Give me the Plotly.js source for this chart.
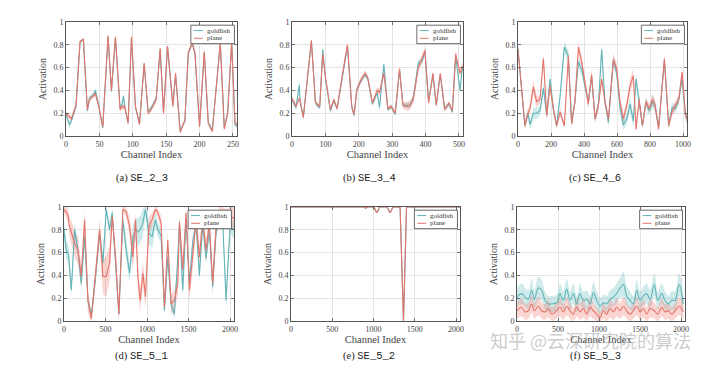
<!DOCTYPE html>
<html><head><meta charset="utf-8">
<script src="https://cdn.plot.ly/plotly-3.0.1.min.js"></script>
<style>html,body{margin:0;padding:0;background:#fff}#chart{width:720px;height:371px}</style>
</head><body><div id="chart"></div>
<script>
// ---------- (a) SE_2_3 ----------
const aX = [0,5,8,15,21,26,32,35,41,44,49,55,63,68,74,81,84,86,88,93,98,104,110,117,123,128,135,141,146,152,160,164,171,178,183,189,193,200,207,213,219,231,237,242,248,253,256];
const aPlane = [0.20,0.17,0.15,0.27,0.83,0.85,0.23,0.32,0.35,0.37,0.26,0.08,0.88,0.40,0.87,0.23,0.26,0.25,0.26,0.11,0.87,0.26,0.10,0.64,0.20,0.24,0.32,0.77,0.20,0.79,0.26,0.55,0.03,0.14,0.73,0.82,0.73,0.08,0.74,0.11,0.04,0.82,0.06,0.20,0.82,0.11,0.10];
const aGold = [0.19,0.10,0.13,0.26,0.82,0.85,0.22,0.33,0.36,0.40,0.27,0.07,0.87,0.39,0.86,0.24,0.28,0.35,0.25,0.12,0.86,0.25,0.11,0.63,0.21,0.25,0.33,0.76,0.21,0.78,0.27,0.53,0.05,0.13,0.72,0.81,0.72,0.09,0.73,0.12,0.05,0.81,0.07,0.21,0.81,0.10,0.09];
const aPlaneStd = [0.02,0.02,0.02,0.02,0.01,0.01,0.02,0.02,0.02,0.02,0.02,0.01,0.01,0.02,0.01,0.02,0.02,0.03,0.02,0.01,0.01,0.02,0.01,0.02,0.02,0.02,0.03,0.01,0.02,0.01,0.02,0.02,0.01,0.02,0.02,0.01,0.02,0.01,0.02,0.01,0.01,0.01,0.01,0.02,0.01,0.02,0.02];
const aGoldStd = [0.02,0.03,0.02,0.02,0.01,0.01,0.02,0.02,0.02,0.02,0.02,0.01,0.01,0.02,0.01,0.02,0.02,0.03,0.02,0.01,0.01,0.02,0.01,0.02,0.02,0.02,0.02,0.01,0.02,0.01,0.02,0.02,0.01,0.02,0.02,0.01,0.02,0.01,0.02,0.01,0.01,0.01,0.01,0.02,0.01,0.02,0.02];

// ---------- (b) SE_3_4 ----------
const bX = [0,12,22,24,34,58,70,75,83,92,100,115,125,135,150,166,179,186,194,206,219,227,241,255,262,271,275,287,297,309,322,332,346,353,363,378,390,398,409,422,432,444,457,470,480,490,503,510,512];
const bPlane = [0.33,0.26,0.33,0.32,0.16,0.84,0.30,0.28,0.26,0.72,0.52,0.23,0.32,0.24,0.52,0.80,0.26,0.19,0.40,0.49,0.55,0.51,0.29,0.40,0.38,0.52,0.55,0.24,0.26,0.20,0.59,0.27,0.26,0.27,0.32,0.60,0.68,0.75,0.29,0.55,0.27,0.55,0.23,0.29,0.22,0.72,0.55,0.61,0.60];
const bGold = [0.32,0.25,0.45,0.30,0.17,0.83,0.30,0.27,0.25,0.76,0.51,0.22,0.31,0.24,0.50,0.79,0.25,0.18,0.41,0.48,0.54,0.50,0.28,0.38,0.25,0.50,0.63,0.23,0.26,0.19,0.58,0.27,0.27,0.27,0.33,0.64,0.66,0.74,0.30,0.54,0.27,0.54,0.24,0.28,0.21,0.70,0.40,0.60,0.59];
const bPlaneStd = [0.02,0.02,0.02,0.02,0.02,0.01,0.02,0.02,0.02,0.02,0.02,0.02,0.02,0.02,0.04,0.03,0.02,0.02,0.03,0.03,0.03,0.02,0.02,0.03,0.03,0.03,0.02,0.02,0.02,0.02,0.02,0.03,0.04,0.04,0.04,0.04,0.04,0.03,0.02,0.02,0.02,0.02,0.02,0.02,0.02,0.03,0.03,0.03,0.03];
const bGoldStd = [0.02,0.02,0.03,0.02,0.02,0.01,0.02,0.02,0.02,0.02,0.02,0.02,0.02,0.02,0.03,0.02,0.02,0.02,0.02,0.02,0.02,0.02,0.02,0.02,0.03,0.02,0.03,0.02,0.02,0.02,0.02,0.02,0.03,0.03,0.03,0.03,0.03,0.02,0.02,0.02,0.02,0.02,0.02,0.02,0.02,0.02,0.03,0.02,0.02];

// ---------- (c) SE_4_6 ----------
const cX = [0,22,42,60,73,93,113,133,154,174,194,214,234,255,281,305,325,345,366,386,406,426,446,467,487,507,527,548,578,598,618,638,659,679,699,715,734,754,775,795,815,831,852,887,913,933,954,974,994,1015,1024];
const cPlane = [0.76,0.41,0.09,0.20,0.24,0.43,0.30,0.32,0.68,0.18,0.44,0.24,0.09,0.21,0.09,0.70,0.11,0.30,0.78,0.65,0.47,0.28,0.54,0.15,0.27,0.50,0.30,0.15,0.67,0.59,0.30,0.15,0.27,0.44,0.53,0.06,0.32,0.09,0.30,0.24,0.32,0.27,0.06,0.68,0.09,0.21,0.27,0.32,0.56,0.18,0.15];
const cGold = [0.76,0.41,0.09,0.20,0.10,0.20,0.20,0.22,0.42,0.18,0.50,0.24,0.09,0.35,0.78,0.70,0.11,0.30,0.65,0.58,0.45,0.30,0.52,0.15,0.27,0.76,0.30,0.12,0.67,0.55,0.25,0.10,0.15,0.28,0.13,0.50,0.30,0.09,0.30,0.22,0.30,0.26,0.08,0.66,0.09,0.25,0.24,0.32,0.50,0.18,0.15];
const cPlaneStd = [0.03,0.04,0.03,0.04,0.05,0.06,0.05,0.04,0.05,0.04,0.05,0.04,0.03,0.04,0.03,0.05,0.03,0.04,0.05,0.05,0.05,0.04,0.05,0.04,0.04,0.05,0.04,0.04,0.05,0.05,0.05,0.04,0.05,0.06,0.06,0.03,0.05,0.03,0.04,0.04,0.05,0.05,0.03,0.04,0.03,0.04,0.04,0.04,0.05,0.04,0.04];
const cGoldStd = [0.03,0.04,0.03,0.04,0.04,0.05,0.05,0.04,0.05,0.04,0.05,0.04,0.03,0.05,0.05,0.05,0.03,0.04,0.04,0.05,0.05,0.04,0.05,0.04,0.04,0.04,0.04,0.04,0.05,0.05,0.05,0.05,0.05,0.06,0.05,0.05,0.05,0.03,0.04,0.04,0.05,0.05,0.03,0.04,0.03,0.04,0.04,0.04,0.05,0.04,0.04];

// ---------- (d) SE_5_1 ----------
const dX = [0,28,48,60,88,128,168,208,248,288,329,369,429,469,509,549,581,621,661,709,749,790,830,862,890,918,950,982,1022,1062,1102,1130,1170,1210,1250,1290,1330,1371,1391,1431,1471,1511,1551,1591,1631,1671,1711,1751,1791,1832,1872,1912,1952,2000,2048];
const dPlane = [0.98,0.95,0.93,0.85,0.77,0.68,0.62,0.39,0.89,0.18,0.02,0.33,0.80,0.39,0.39,0.51,0.92,0.56,0.06,0.98,0.96,0.83,0.56,0.89,0.39,0.18,0.42,0.21,0.83,0.89,0.98,0.95,0.86,0.12,0.71,0.15,0.18,0.33,0.87,0.45,0.95,0.27,0.56,0.89,0.56,0.89,0.62,0.86,0.33,0.83,0.95,0.95,0.92,0.92,0.90];
const dGold = [0.80,0.62,0.60,0.54,0.27,0.80,0.62,0.33,0.74,0.18,0.05,0.30,0.77,0.51,0.98,0.80,0.95,0.53,0.06,0.89,0.62,0.42,0.74,0.80,0.78,0.80,0.86,0.98,0.77,0.74,0.89,0.80,0.75,0.09,0.56,0.15,0.06,0.56,0.85,0.27,0.90,0.33,0.70,0.85,0.40,0.85,0.55,0.80,0.30,0.78,0.90,0.88,0.18,0.83,0.80];
const dPlaneStd = [0.03,0.05,0.06,0.08,0.10,0.12,0.12,0.10,0.08,0.10,0.05,0.08,0.10,0.15,0.18,0.15,0.06,0.10,0.06,0.03,0.04,0.08,0.12,0.06,0.10,0.10,0.10,0.10,0.08,0.06,0.03,0.04,0.06,0.06,0.08,0.08,0.10,0.10,0.06,0.10,0.04,0.10,0.10,0.06,0.10,0.06,0.10,0.08,0.10,0.08,0.05,0.05,0.06,0.08,0.10];
const dGoldStd = [0.08,0.08,0.08,0.08,0.06,0.06,0.06,0.06,0.06,0.05,0.04,0.05,0.06,0.08,0.03,0.06,0.04,0.06,0.04,0.06,0.08,0.08,0.10,0.10,0.12,0.12,0.12,0.05,0.10,0.10,0.06,0.06,0.06,0.04,0.06,0.05,0.04,0.06,0.05,0.06,0.05,0.06,0.06,0.05,0.06,0.05,0.06,0.05,0.06,0.05,0.05,0.06,0.08,0.06,0.08];

// ---------- (e) SE_5_2 ----------
const eX = [0,300,600,880,905,930,1005,1020,1038,1056,1070,1165,1183,1200,1217,1235,1322,1363,1400,1700,2048];
const ePlane = [1,1,1,1,0.99,1,1,0.97,0.95,0.97,1,1,0.97,0.95,0.97,1,1,0,1,1,1];
const eGold = [1,1,1,1,0.99,1,1,0.97,0.95,0.97,1,1,0.97,0.95,0.97,1,1,0,1,1,1];
const ePlaneStd = [0,0,0,0,0.005,0,0,0.005,0.005,0.005,0,0,0.005,0.005,0.005,0,0,0,0,0,0];
const eGoldStd = [0,0,0,0,0.005,0,0,0.005,0.005,0.005,0,0,0.005,0.005,0.005,0,0,0,0,0,0];

// ---------- (f) SE_5_3 ----------
const fX = [0,57,98,138,179,211,260,301,341,382,423,484,524,565,606,646,687,728,768,809,850,890,931,972,1012,1053,1093,1134,1174,1215,1256,1297,1337,1378,1419,1459,1500,1541,1581,1622,1675,1715,1764,1805,1846,1886,1927,1976,2028];
const fGold = [0.21,0.24,0.21,0.19,0.27,0.19,0.29,0.27,0.18,0.15,0.15,0.16,0.24,0.18,0.28,0.18,0.24,0.15,0.24,0.18,0.19,0.15,0.25,0.18,0.13,0.16,0.15,0.19,0.21,0.24,0.29,0.32,0.22,0.18,0.15,0.27,0.18,0.22,0.24,0.19,0.32,0.18,0.24,0.18,0.15,0.18,0.18,0.32,0.15];
const fPlane = [0.09,0.12,0.08,0.09,0.15,0.09,0.13,0.09,0.08,0.11,0.06,0.09,0.12,0.08,0.13,0.09,0.06,0.12,0.08,0.11,0.06,0.12,0.09,0.06,0.03,0.09,0.06,0.11,0.08,0.12,0.09,0.13,0.09,0.06,0.09,0.13,0.08,0.11,0.06,0.11,0.09,0.06,0.12,0.08,0.09,0.06,0.09,0.13,0.08];
const fGoldStd = [0.08,0.09,0.08,0.08,0.10,0.08,0.10,0.09,0.08,0.07,0.07,0.07,0.09,0.08,0.09,0.08,0.09,0.07,0.09,0.08,0.08,0.07,0.09,0.08,0.07,0.07,0.07,0.08,0.08,0.09,0.09,0.11,0.09,0.08,0.07,0.09,0.08,0.08,0.09,0.08,0.10,0.08,0.09,0.08,0.07,0.08,0.08,0.10,0.07];
const fPlaneStd = [0.07,0.08,0.07,0.07,0.08,0.07,0.08,0.07,0.07,0.08,0.06,0.07,0.08,0.07,0.08,0.07,0.06,0.08,0.07,0.08,0.06,0.08,0.07,0.06,0.05,0.07,0.06,0.08,0.07,0.08,0.07,0.08,0.07,0.06,0.07,0.08,0.07,0.08,0.06,0.08,0.07,0.06,0.08,0.07,0.07,0.06,0.07,0.08,0.07];

// ---------- labels ----------
const seriesNames = ['goldfish','plane'];
const captionTags = ['(a)','(b)','(c)','(d)','(e)','(f)'];
const captionNames = ['SE_2_3','SE_3_4','SE_4_6','SE_5_1','SE_5_2','SE_5_3'];
const yTickVals = [0,0.2,0.4,0.6,0.8,1];
const yTickText = ['0','0.2','0.4','0.6','0.8','1'];
const xTicksA = [0,50,100,150,200,250];
const xTicksB = [0,100,200,300,400,500];
const xTicksC = [0,200,400,600,800,1000];
const xTicksD = [0,500,1000,1500,2000];

const GOLD='rgb(98,180,182)', PLANE='rgb(228,116,108)';
const GOLD_FILL='rgba(120,198,200,0.36)', PLANE_FILL='rgba(242,128,118,0.33)';
const SERIF='Liberation Serif';
const MONO='Liberation Mono';

const panels = [
  {x:aX,g:aGold,gs:aGoldStd,p:aPlane,ps:aPlaneStd,range:[0,256],ticks:xTicksA,shape:'linear'},
  {x:bX,g:bGold,gs:bGoldStd,p:bPlane,ps:bPlaneStd,range:[0,512],ticks:xTicksB,shape:'linear'},
  {x:cX,g:cGold,gs:cGoldStd,p:cPlane,ps:cPlaneStd,range:[0,1024],ticks:xTicksC,shape:'linear'},
  {x:dX,g:dGold,gs:dGoldStd,p:dPlane,ps:dPlaneStd,range:[0,2048],ticks:xTicksD,shape:'linear'},
  {x:eX,g:eGold,gs:eGoldStd,p:ePlane,ps:ePlaneStd,range:[0,2048],ticks:xTicksD,shape:'linear'},
  {x:fX,g:fGold,gs:fGoldStd,p:fPlane,ps:fPlaneStd,range:[0,2048],ticks:xTicksD,shape:'spline'}
];
// plot-area pixel boxes [left,right,top,bottom]
const boxes = [[66,237,22,136],[292,463,22,136],[518,687,22,136],[64,234,207,321],[291,460,207,321],[517,685,207,321]];
const captionPos = [[142,178],[370,178],[595,178],[141,356],[369,356],[595,356]];
const W=720,H=371;

const traces=[]; const layout={
  width:W,height:H,margin:{l:0,r:0,t:0,b:0},paper_bgcolor:'#fff',plot_bgcolor:'#fff',
  showlegend:false,shapes:[],annotations:[],font:{family:SERIF,color:'#333'}
};
panels.forEach((P,i)=>{
  const s = i===0?'':String(i+1);
  const xa='x'+s, ya='y'+s;
  const band=(m,sd,fill)=>{
    traces.push({x:P.x,y:m.map((v,k)=>v+sd[k]),xaxis:xa,yaxis:ya,mode:'lines',line:{width:0,shape:P.shape},hoverinfo:'skip'});
    traces.push({x:P.x,y:m.map((v,k)=>v-sd[k]),xaxis:xa,yaxis:ya,mode:'lines',line:{width:0,shape:P.shape},fill:'tonexty',fillcolor:fill,hoverinfo:'skip'});
  };
  band(P.g,P.gs,GOLD_FILL);
  band(P.p,P.ps,PLANE_FILL);
  traces.push({x:P.x,y:P.g,xaxis:xa,yaxis:ya,mode:'lines',name:seriesNames[0],line:{color:GOLD,width:1.1,shape:P.shape}});
  traces.push({x:P.x,y:P.p,xaxis:xa,yaxis:ya,mode:'lines',name:seriesNames[1],line:{color:PLANE,width:1.1,shape:P.shape}});
  const b=boxes[i];
  const common={showline:true,mirror:'ticks',linecolor:'#555',linewidth:1,ticks:'inside',ticklen:3,tickcolor:'#555',tickwidth:0.8,
    showgrid:true,gridcolor:'#e4e4e4',gridwidth:1,zeroline:false,tickfont:{family:SERIF,size:8,color:'#444'}};
  layout['xaxis'+s]=Object.assign({},common,{domain:[b[0]/W,b[1]/W],anchor:ya,range:P.range,tickvals:P.ticks,
    title:{text:'Channel Index',font:{family:SERIF,size:10.5,color:'#444'},standoff:3}});
  layout['yaxis'+s]=Object.assign({},common,{domain:[1-b[3]/H,1-b[2]/H],anchor:xa,range:[0,1],tickvals:yTickVals,ticktext:yTickText,
    title:{text:'Activation',font:{family:SERIF,size:10,color:'#444'},standoff:4}});
  // legend box
  const xr=xa+' domain', yr=ya+' domain';
  layout.shapes.push({type:'rect',xref:xr,yref:yr,x0:0.73,x1:0.985,y0:0.81,y1:0.972,line:{color:'#444',width:0.8},fillcolor:'#fff',layer:'above'});
  layout.shapes.push({type:'line',xref:xr,yref:yr,x0:0.748,x1:0.80,y0:0.925,y1:0.925,line:{color:GOLD,width:1},layer:'above'});
  layout.shapes.push({type:'line',xref:xr,yref:yr,x0:0.748,x1:0.80,y0:0.857,y1:0.857,line:{color:PLANE,width:1},layer:'above'});
  layout.annotations.push({xref:xr,yref:yr,x:0.81,y:0.925,xanchor:'left',yanchor:'middle',showarrow:false,text:seriesNames[0],font:{family:SERIF,size:7,color:'#333'}});
  layout.annotations.push({xref:xr,yref:yr,x:0.81,y:0.857,xanchor:'left',yanchor:'middle',showarrow:false,text:seriesNames[1],font:{family:SERIF,size:7,color:'#333'}});
  const c=captionPos[i];
  layout.annotations.push({xref:'paper',yref:'paper',x:c[0]/W,y:1-c[1]/H,xanchor:'center',yanchor:'middle',showarrow:false,
    text:captionTags[i]+' <span style="font-family:'+MONO+'">'+captionNames[i]+'</span>',font:{family:SERIF,size:10.5,color:'#222'}});
});
layout.annotations.push({xref:'paper',yref:'paper',x:590/W,y:1-340/H,xanchor:'center',yanchor:'middle',showarrow:false,
  text:'知乎 @云深研究院的算法',font:{family:'Noto Sans CJK SC',size:18,color:'rgba(160,160,160,0.55)'}});

Plotly.newPlot('chart',traces,layout,{staticPlot:true,displayModeBar:false});
</script></body></html>
